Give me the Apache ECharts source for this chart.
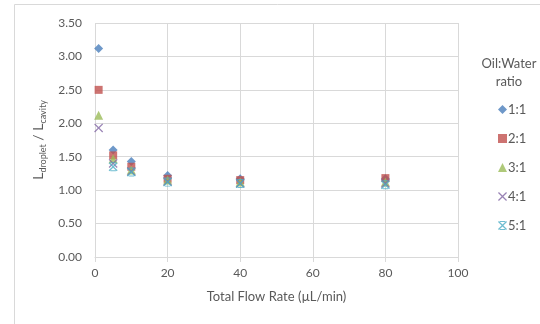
<!DOCTYPE html>
<html>
<head>
<meta charset="utf-8">
<script src="https://cdn.jsdelivr.net/npm/echarts@6/dist/echarts.min.js"></script>
<style>
html, body { margin: 0; padding: 0; background: #fff; }
#chart { width: 540px; height: 324px; }
</style>
</head>
<body>
<div id="chart"></div>
<script>
// flow rates (uL/min) and droplet/cavity length ratios per oil:water ratio
var flow = [1, 5, 10, 20, 40, 80];
var flow5 = [5, 10, 20, 40, 80];
var ratio11 = [3.12, 1.60, 1.43, 1.22, 1.17, 1.17];
var ratio21 = [2.50, 1.52, 1.35, 1.17, 1.15, 1.18];
var ratio31 = [2.12, 1.47, 1.30, 1.15, 1.12, 1.12];
var ratio41 = [1.93, 1.40, 1.28, 1.13, 1.10, 1.10];
var ratio51 = [1.35, 1.27, 1.12, 1.10, 1.08];
var seriesNames = ['1:1', '2:1', '3:1', '4:1', '5:1'];
var colors = ['#4a7ebb', '#c0504d', '#9bbb59', '#8064a2', '#4bacc6'];

var xMark = 'path://M0,1L1,0L5,4L9,0L10,1L6,5L10,9L9,10L5,6L1,10L0,9L4,5Z';
var starMark = 'path://M0,1L1,0L5,4L9,0L10,1L6,5L10,9L9,10L5,6L1,10L0,9L4,5Z' +
    'M2,0L8,0L8,1.1L2,1.1Z M2,8.9L8,8.9L8,10L2,10Z';
var symbols = ['diamond', 'rect', 'triangle', xMark, starMark];
var sizes = [9, 8, 9, 9, 9];

function pairs(xs, ys) {
    return ys.map(function (v, i) { return [xs[i], v]; });
}
var allData = [
    pairs(flow, ratio11),
    pairs(flow, ratio21),
    pairs(flow, ratio31),
    pairs(flow, ratio41),
    pairs(flow5, ratio51)
];

var font = 'Lato, "Open Sans", sans-serif';
var chart = echarts.init(document.getElementById('chart'));
chart.setOption({
    animation: false,
    textStyle: { fontFamily: font },
    graphic: [
        {
            type: 'rect',
            shape: { x: 14.5, y: 4.5, width: 560, height: 340 },
            style: { fill: 'none', stroke: '#d9d9d9', lineWidth: 1 },
            z: -1
        },
        {
            type: 'text',
            left: 481,
            top: 55,
            style: {
                text: 'Oil:Water\nratio',
                textAlign: 'center',
                fontFamily: font,
                fontSize: 13,
                lineHeight: 18,
                fill: '#595959',
                width: 56
            }
        }
    ],
    legend: {
        orient: 'vertical',
        left: 493,
        top: 98,
        itemWidth: 9,
        itemHeight: 9,
        itemGap: 16,
        textStyle: { fontSize: 13, color: '#595959', fontFamily: font, padding: [0, 0, 0, -4] },
        data: seriesNames
    },
    grid: { left: 95, right: 82, top: 23, bottom: 67 },
    xAxis: {
        type: 'value',
        min: 0,
        max: 100,
        interval: 20,
        name: 'Total Flow Rate (\u00b5L/min)',
        nameLocation: 'middle',
        nameGap: 33,
        nameTextStyle: { fontSize: 13, color: '#595959' },
        axisLine: { show: true, lineStyle: { color: '#d9d9d9' } },
        axisTick: { show: true, length: 5, lineStyle: { color: '#d9d9d9' } },
        axisLabel: { fontSize: 12, color: '#595959', margin: 10 },
        splitLine: { show: true, lineStyle: { color: '#d9d9d9' } }
    },
    yAxis: {
        type: 'value',
        min: 0,
        max: 3.5,
        interval: 0.5,
        name: '{m|L}{s|droplet}{m| / L}{s|cavity}',
        nameLocation: 'middle',
        nameGap: 44,
        nameTextStyle: {
            color: '#595959',
            rich: {
                m: { fontSize: 14, color: '#595959', fontFamily: font },
                s: { fontSize: 9, color: '#595959', fontFamily: font, padding: [8, 0, 0, 0] }
            }
        },
        axisLine: { show: false },
        axisTick: { show: false },
        axisLabel: {
            fontSize: 12,
            color: '#595959',
            margin: 13,
            formatter: function (v) { return v.toFixed(2); }
        },
        splitLine: { show: true, lineStyle: { color: '#d9d9d9' } }
    },
    series: allData.map(function (d, i) {
        return {
            name: seriesNames[i],
            type: 'scatter',
            symbol: symbols[i],
            symbolSize: sizes[i],
            itemStyle: { color: colors[i] },
            data: d
        };
    })
});
</script>
</body>
</html>
